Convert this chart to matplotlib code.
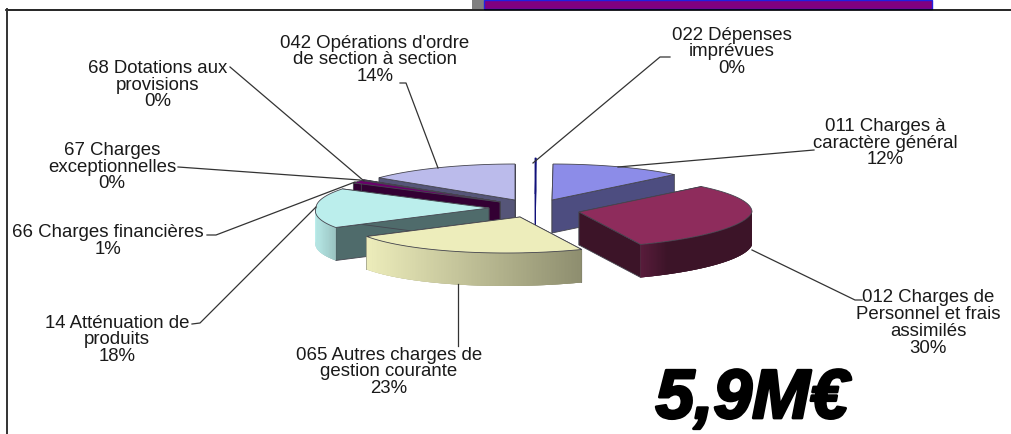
import numpy as np
import matplotlib
matplotlib.use('Agg')
import matplotlib.pyplot as plt
import matplotlib.patheffects as pe

plt.rcParams['font.family'] = ['Liberation Sans', 'DejaVu Sans']

categories = ["022 Dépenses\nimprévues", "011 Charges à\ncaractère général",
              "012 Charges de\nPersonnel et frais\nassimilés", "065 Autres charges de\ngestion courante",
              "14 Atténuation de\nproduits", "66 Charges financières",
              "67 Charges\nexceptionnelles", "68 Dotations aux\nprovisions",
              "042 Opérations d'ordre\nde section à section"]
percents = [0.1, 12.4, 30.4, 23.0, 18.0, 1.3, 0.2, 0.2, 14.4]
shown = ["0%", "12%", "30%", "23%", "18%", "1%", "0%", "0%", "14%"]

# layout, all in pixels of the picture
CX, CY = 522, 197
RX, RY = 173, 36
DEPTH = 33
SKEW = 0.4  # front of the pie leans left
offset_x = [13, 30, 57, -2, -33, -22, -22, -22, -7]
offset_y = [-3, 3, 15, 20, 11, 5, 5, 5, 3]
top_col = ['#10107a', '#8c8ce8', '#8e2c5c', '#ededbb', '#bbeeec', '#6a006a', '#6a006a', '#6a006a', '#bbbbeb']
side_col = ['#10107a', '#4d4d80', '#3c1428', '#55604a', '#4f6b6b', '#330033', '#330033', '#330033', '#555578']
edge_col = ['#10107a', '#45454f', '#45454f', '#45454f', '#45454f', '#45454f', '#45454f', '#45454f', '#45454f']
arc_left = ['#10107a', '#4d4d80', '#5a1c3c', '#ededbb', '#bbeeec', '#330033', '#330033', '#330033', '#555578']
arc_right = ['#10107a', '#4d4d80', '#3c1428', '#8e8e6f', '#8fb5b3', '#330033', '#330033', '#330033', '#555578']
fade = [1, 1, 4, 1, 1, 1, 1, 1, 1]  # how quickly the rim reaches its right colour
# back slices first so the front ones cover them
draw_order = [0, 8, 1, 6, 7, 5, 4, 2, 3]

label_x = [732, 885, 928, 389, 117, 108, 112, 158, 375]
label_y = [52, 143, 323, 372, 340, 241, 167, 85, 60]
leaders = [[(670, 57), (660, 57), (533, 163)],
           [(814, 150), (618, 167)],
           [(862, 300), (855, 300), (752, 250)],
           [(458, 346), (458, 284)],
           [(192, 324), (200, 323), (316, 207)],
           [(207, 235), (216, 235), (355, 182)],
           [(178, 167), (360, 180)],
           [(230, 67), (364, 181)],
           [(400, 83), (406, 83), (438, 168)]]


def mix(c1, c2, t):
    a = np.array(matplotlib.colors.to_rgb(c1))
    b = np.array(matplotlib.colors.to_rgb(c2))
    return a + (b - a) * t


fig = plt.figure(figsize=(10.11, 4.34), dpi=100)
ax = fig.add_axes([0, 0, 1, 1])
ax.set_xlim(0, 1011)
ax.set_ylim(434, 0)
ax.axis('off')

# bits of the page around the chart
ax.fill([472, 484, 484, 472], [0, 0, 9, 9], color='#808080', lw=0)
ax.fill([484, 932, 932, 484], [0, 0, 9, 9], color='#800080', ec='#2020e0', lw=1)
ax.plot([6, 1011], [9.5, 9.5], color='black', lw=1.2)
ax.plot([6.5, 6.5], [9, 434], color='#333333', lw=1.4)

ends = np.cumsum(percents) / np.sum(percents) * 360
starts = ends - np.array(percents) / np.sum(percents) * 360

for i in draw_order:
    t = np.radians(np.linspace(starts[i], ends[i], max(int(ends[i] - starts[i]) * 2, 3)))
    ox = CX + offset_x[i]
    oy = CY + offset_y[i]
    x = ox + RX * np.sin(t) - SKEW * RY * np.maximum(-np.cos(t), 0)
    y = oy - RY * np.cos(t)
    # flat sides going down from the centre
    for k in [0, -1]:
        ax.fill([ox, x[k], x[k], ox], [oy, y[k], y[k] + DEPTH, oy + DEPTH],
                color=side_col[i], ec=edge_col[i], lw=0.6)
    # outer rim, only where it faces us
    front = np.cos(t) < 0.05
    if front.sum() > 1:
        # solid base first, the thin strips alone leave a pale band
        ax.fill(np.r_[x[front], x[front][::-1]], np.r_[y[front], y[front][::-1] + DEPTH],
                color=arc_right[i], lw=0)
    xmin, xmax = x.min(), x.max()
    n = len(t) - 1
    for k in range(n):
        if front[k] or front[k + 1]:
            col = mix(arc_left[i], arc_right[i], min((x[k] - xmin) / max(xmax - xmin, 1) * fade[i], 1))
            j = min(k + 2, n)  # overlap the next strip, stops seams
            ax.fill([x[k], x[j], x[j], x[k]],
                    [y[k], y[j], y[j] + DEPTH, y[k] + DEPTH], color=col, lw=0)
    ax.fill(np.r_[ox, x], np.r_[oy, y], color=top_col[i], ec=edge_col[i], lw=0.6)

for pts in leaders:
    ax.plot([p[0] for p in pts], [p[1] for p in pts], color='#333333', lw=0.9, zorder=5)

for i in range(len(categories)):
    ax.text(label_x[i], label_y[i], categories[i] + "\n" + shown[i], ha='center', va='center',
            fontsize=13.4, linespacing=0.98, color='#1a1a1a', zorder=6)

ax.text(752, 400, "5,9M€", ha='center', va='center', fontsize=50, style='italic', weight='bold',
        color='black', path_effects=[pe.withStroke(linewidth=2, foreground='black')])

fig.savefig('out.png', dpi=100)
